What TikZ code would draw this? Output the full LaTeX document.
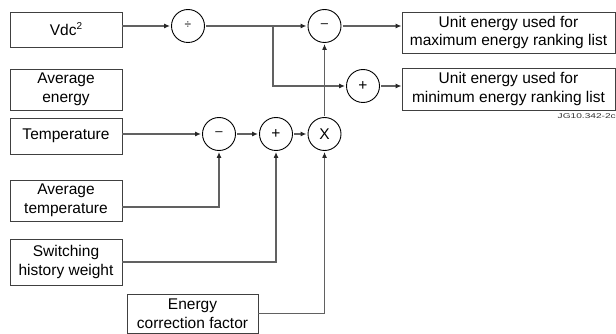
\documentclass[tikz,border=0pt]{standalone}
\usepackage{fontspec}
\setmainfont{Liberation Sans}
\usetikzlibrary{arrows.meta,calc}
\begin{document}
\begin{tikzpicture}[x=1pt,y=-1pt,
  box/.style={draw=black!75,line width=0.9pt,inner sep=0pt,align=center,
    font=\fontsize{15.5}{18.5}\selectfont},
  op/.style={draw=black,line width=0.9pt,circle,minimum size=33pt,inner sep=0pt,
    outer sep=1.5pt,font=\fontsize{15.5}{18.5}\selectfont},
  arr/.style={draw=black!62,line width=1.1pt,-{Latex[length=6pt,width=5pt,color=black!85]}}]
\useasboundingbox (0,0) rectangle (616,334);
% input boxes
\node[box,minimum width=112pt,minimum height=35pt] (vdc) at (66,29.5) {Vdc\raisebox{6pt}{\fontsize{10}{10}\selectfont 2}};
\node[box,minimum width=112pt,minimum height=41pt] (avgE) at (66,89.5) {Average\\energy};
\node[box,minimum width=112pt,minimum height=36pt] (temp) at (66,136) {Temperature};
\node[box,minimum width=112pt,minimum height=41pt] (avgT) at (66,200.5) {Average\\temperature};
\node[box,minimum width=112pt,minimum height=46pt] (swh) at (66,262) {Switching\\history weight};
\node[box,minimum width=131pt,minimum height=39pt] (ecf) at (192.5,313.5) {Energy\\correction factor};
% output boxes
\node[box,minimum width=213pt,minimum height=41pt] (maxb) at (508.5,32.5) {Unit energy used for\\maximum energy ranking list};
\node[box,minimum width=213pt,minimum height=42pt] (minb) at (508.5,89) {Unit energy used for\\minimum energy ranking list};
% operators
\node[op] (div) at (188,26) {\fontsize{12}{12}\selectfont\raisebox{1pt}{÷}};
\node[op] (sub1) at (324.5,26) {\fontsize{13}{13}\selectfont\raisebox{1pt}{–}};
\node[op] (addmin) at (363,86) {+};
\node[op] (sub2) at (219,134) {\fontsize{13}{13}\selectfont\raisebox{1pt}{–}};
\node[op] (add2) at (276,134) {+};
\node[op] (mul) at (324.5,134) {X};
\coordinate (br) at (273,26);
% label
\node[anchor=east,inner sep=0pt,font=\fontsize{7}{8}\selectfont,text=black!80] (lbl) at (616,116) {\scalebox{1.45}[1]{JG10.342-2c}};
% connectors
\draw[arr] (vdc.east |- div) -- (div);
\draw[arr] (div) -- (sub1);
\draw[arr] (br) |- (addmin);
\draw[arr] (sub1) -- (sub1 -| maxb.west);
\draw[arr] (addmin) -- (addmin -| minb.west);
\draw[arr] (temp.east |- sub2) -- (sub2);
\draw[arr] (sub2) -- (add2);
\draw[arr] (add2) -- (mul);
\draw[arr] (mul) -- (sub1);
\draw[arr] ([yshift=-6.5pt]avgT.east) -| (sub2);
\draw[arr] (swh.east) -| (add2);
\draw[arr] (ecf.east) -| (mul);
\end{tikzpicture}
\end{document}
